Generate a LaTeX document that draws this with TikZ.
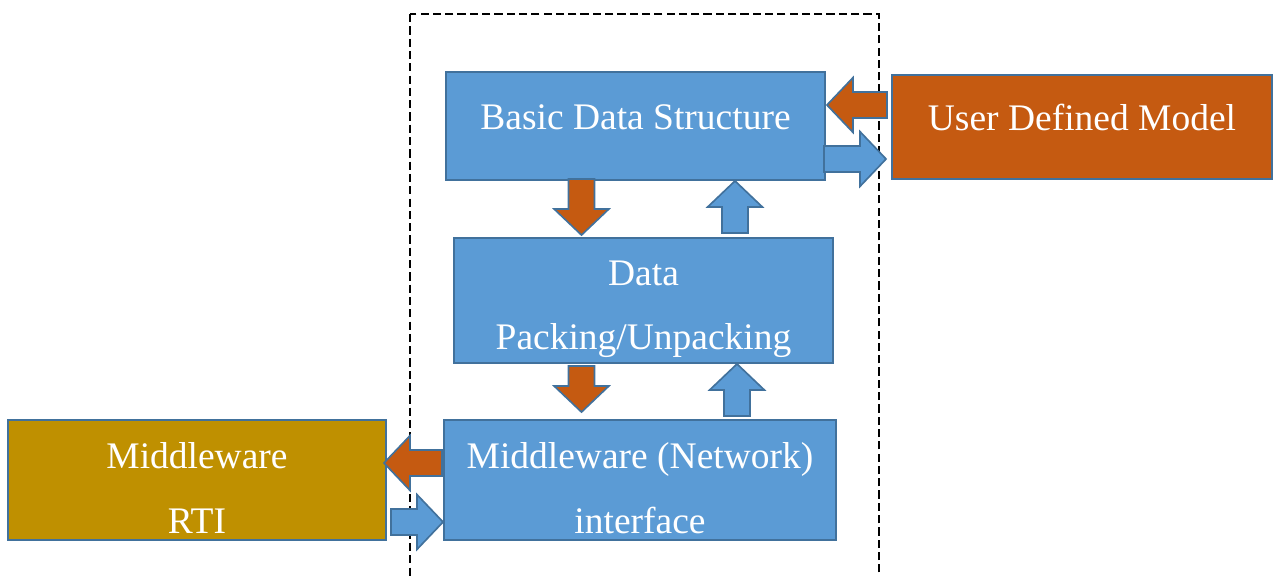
\documentclass[tikz,border=0pt]{standalone}
\usepackage{fontspec}
\setmainfont{Liberation Serif}
\usetikzlibrary{calc}
\definecolor{boxblue}{HTML}{5B9BD5}
\definecolor{lineblue}{HTML}{41719C}
\definecolor{boxorange}{HTML}{C55A11}
\definecolor{boxgold}{HTML}{BF9000}
\newcommand{\tallstrut}{\rule{0pt}{36pt}}
% block arrow: [fill] {from} {to}
\newcommand{\blockarrow}[3][boxblue]{%
	\path (#2) coordinate (ba-s) (#3) coordinate (ba-e);
	\path ($(ba-e)!0.78cm!(ba-s)$) coordinate (ba-h);
	\draw[blockarr, fill=#1] ($(ba-s)!0.39cm!90:(ba-e)$) -- ($(ba-h)!0.39cm!-90:(ba-s)$)
		-- ($(ba-h)!0.82cm!-90:(ba-s)$) -- (ba-e) -- ($(ba-h)!0.82cm!90:(ba-s)$)
		-- ($(ba-h)!0.39cm!90:(ba-s)$) -- ($(ba-s)!0.39cm!-90:(ba-e)$) -- cycle;
}
\begin{document}
\begin{tikzpicture}[x=0.03cm, y=-0.03cm,
	box/.style={draw=lineblue, line width=1.6pt, fill=boxblue, text=white, align=center,
		inner sep=0pt, font=\fontsize{32}{55}\selectfont},
	oneline/.style={text height=22pt, text depth=15.2pt},
	blockarr/.style={draw=lineblue, line width=1.4pt, line join=miter}]
	\clip (0,0) rectangle (1277,576);
	
	%%% Contorno tratteggiato
	\draw[line width=2pt, dash pattern=on 7pt off 3.5pt] (410,14) rectangle (879,600);
	
	%%% Blocchi
	\node[box, oneline, minimum width=11.37cm, minimum height=3.24cm] (bds) at (635.5,126) {Basic Data Structure};
	\node[box, oneline, fill=boxorange, minimum width=11.4cm, minimum height=3.12cm] (udm) at (1082,127) {User Defined Model};
	\node[box, minimum width=11.37cm, minimum height=3.75cm] (dpu) at (643.5,300.5) {\tallstrut Data\\Packing/Unpacking};
	\node[box, minimum width=11.76cm, minimum height=3.6cm] (mni) at (640,480) {\tallstrut Middleware (Network)\\interface};
	\node[box, fill=boxgold, minimum width=11.34cm, minimum height=3.6cm] (rti) at (197,480) {\tallstrut Middleware\\RTI};
	
	%%% Frecce
	\coordinate (a1) at ($(udm.west)+(-4,-22)$);		% modello -> struttura
	\blockarrow[boxorange]{a1}{$(bds.east |- a1)+(1,0)$}
	\coordinate (a2) at ($(bds.east)+(-2,33)$);		% struttura -> modello
	\blockarrow{a2}{$(udm.west |- a2)+(-5,0)$}
	\coordinate (a3) at ($(bds.south)+(-54,-2)$);		% struttura -> packing
	\blockarrow[boxorange]{a3}{$(a3 |- dpu.north)+(0,-2)$}
	\coordinate (a4) at ($(dpu.north)+(91.5,-4)$);		% packing -> struttura
	\blockarrow{a4}{a4 |- bds.south}
	\coordinate (a5) at ($(dpu.south)+(-62,2)$);		% packing -> middleware
	\blockarrow[boxorange]{a5}{$(a5 |- mni.north)+(0,-7)$}
	\coordinate (a6) at ($(mni.north)+(97,-3)$);		% middleware -> packing
	\blockarrow{a6}{a6 |- dpu.south}
	\coordinate (a7) at ($(mni.west)+(-1,-17)$);		% interfaccia -> RTI
	\blockarrow[boxorange]{a7}{$(a7 -| rti.east)+(-3,0)$}
	\coordinate (a8) at ($(rti.east)+(4,42)$);		% RTI -> interfaccia
	\blockarrow{a8}{a8 -| mni.west}
\end{tikzpicture}
\end{document}
